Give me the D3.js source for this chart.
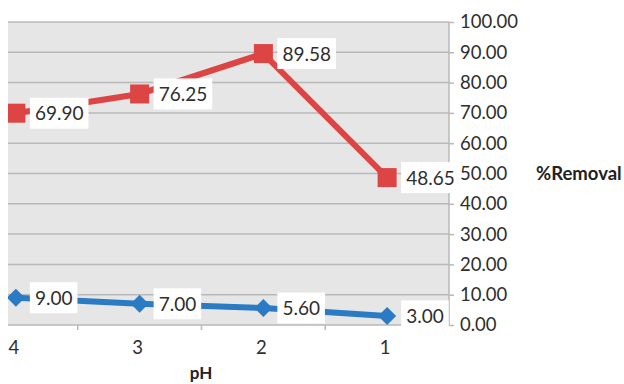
<!DOCTYPE html>
<html>
<head>
<meta charset="utf-8">
<script src="https://cdn.jsdelivr.net/npm/d3@7"></script>
<style>
  html, body { margin: 0; padding: 0; background: #fff; }
  svg { display: block; font-family: Lato, "Open Sans", sans-serif; }
</style>
</head>
<body>
<svg id="chart" width="624" height="384"></svg>
<script>
// pH categories, left to right
const categories = ["4", "3", "2", "1"];
// % removal for the two series
const redValues = [69.90, 76.25, 89.58, 48.65];
const blueValues = [9.00, 7.00, 5.60, 3.00];
// right axis ticks
const yTicks = [0, 10, 20, 30, 40, 50, 60, 70, 80, 90, 100];

const svg = d3.select("#chart");

const plotLeft = 8, plotRight = 449, plotTop = 22, plotBottom = 325;

const x = d3.scaleBand().domain(categories).range([-46, plotRight]).paddingInner(0).paddingOuter(0);
const cx = d => x(d) + x.bandwidth() / 2;
const y = d3.scaleLinear().domain([0, 100]).range([plotBottom, plotTop]);

// plot background
svg.append("rect")
  .attr("x", plotLeft).attr("y", plotTop)
  .attr("width", plotRight - plotLeft).attr("height", plotBottom - plotTop)
  .attr("fill", "#e6e6e6");

svg.append("clipPath").attr("id", "plotClip")
  .append("rect")
  .attr("x", plotLeft).attr("y", plotTop - 20)
  .attr("width", plotRight - plotLeft).attr("height", plotBottom - plotTop + 40);

// horizontal gridlines
svg.append("g").selectAll("line")
  .data(yTicks.filter(t => t > 0))
  .join("line")
  .attr("x1", plotLeft).attr("x2", plotRight)
  .attr("y1", d => y(d)).attr("y2", d => y(d))
  .attr("stroke", "#b9b9b9").attr("stroke-width", 1.5);

// right value axis
const yAxis = d3.axisRight(y).tickValues(yTicks).tickFormat(d3.format(".2f")).tickSize(5).tickPadding(6);
const gy = svg.append("g").attr("transform", `translate(${plotRight},0)`).call(yAxis);
gy.select(".domain").attr("stroke", "#b9b9b9").attr("stroke-width", 1.5).attr("d", `M0,${plotTop}V${plotBottom}`);
gy.selectAll(".tick line").attr("stroke", "#b9b9b9").attr("stroke-width", 1.5);
gy.selectAll(".tick text").attr("fill", "#2e2e2e").attr("font-size", 18.5).attr("font-family", "Lato, sans-serif");

// bottom category axis
const xAxis = svg.append("g");
xAxis.append("line")
  .attr("x1", plotLeft).attr("x2", plotRight)
  .attr("y1", plotBottom).attr("y2", plotBottom)
  .attr("stroke", "#b9b9b9").attr("stroke-width", 1.5);
xAxis.selectAll("line.tk")
  .data(categories.slice(1))
  .join("line").attr("class", "tk")
  .attr("x1", d => x(d)).attr("x2", d => x(d))
  .attr("y1", plotBottom).attr("y2", plotBottom + 5)
  .attr("stroke", "#b9b9b9").attr("stroke-width", 1.5);
xAxis.selectAll("text")
  .data(categories)
  .join("text")
  .attr("x", d => cx(d) - 2).attr("y", 354)
  .attr("text-anchor", "middle")
  .attr("fill", "#2e2e2e").attr("font-size", 18.5)
  .text(d => d);

// axis titles
svg.append("text")
  .attr("x", 201).attr("y", 379)
  .attr("text-anchor", "middle")
  .attr("font-weight", "bold").attr("font-size", 17).attr("fill", "#222")
  .text("pH");
svg.append("text")
  .attr("x", 536).attr("y", y(50) + 6.5)
  .attr("font-weight", "bold").attr("font-size", 18.5).attr("fill", "#222")
  .text("%Removal");

const line = d3.line().x((d, i) => cx(categories[i])).y(d => y(d));
const plot = svg.append("g").attr("clip-path", "url(#plotClip)");

// blue series with diamond markers
plot.append("path").datum(blueValues)
  .attr("d", line).attr("fill", "none")
  .attr("stroke", "#2a7bc4").attr("stroke-width", 6);
plot.selectAll("path.dia").data(blueValues).join("path").attr("class", "dia")
  .attr("transform", (d, i) => `translate(${cx(categories[i])},${y(d)})`)
  .attr("d", "M0,-9L9,0L0,9L-9,0Z")
  .attr("fill", "#2a7bc4");

// red series with square markers
plot.append("path").datum(redValues)
  .attr("d", line).attr("fill", "none")
  .attr("stroke", "#dd4444").attr("stroke-width", 6);
plot.selectAll("rect.sq").data(redValues).join("rect").attr("class", "sq")
  .attr("x", (d, i) => cx(categories[i]) - 9.5).attr("y", d => y(d) - 9.5)
  .attr("width", 19).attr("height", 19)
  .attr("fill", "#dd4444");

// value labels in white boxes, right of each point
function drawLabels(values) {
  const g = svg.append("g");
  values.forEach((v, i) => {
    const px = cx(categories[i]) + 14;
    const py = y(v);
    const lg = g.append("g");
    const box = lg.append("rect").attr("fill", "#fff");
    const t = lg.append("text")
      .attr("x", px + 5).attr("y", py + 7)
      .attr("font-size", 19).attr("fill", "#2e2e2e")
      .text(v.toFixed(2));
    const w = t.node().getComputedTextLength();
    box.attr("x", px).attr("y", py - 15.5).attr("width", w + 10).attr("height", 31);
  });
}
drawLabels(redValues);
drawLabels(blueValues);
</script>
</body>
</html>
